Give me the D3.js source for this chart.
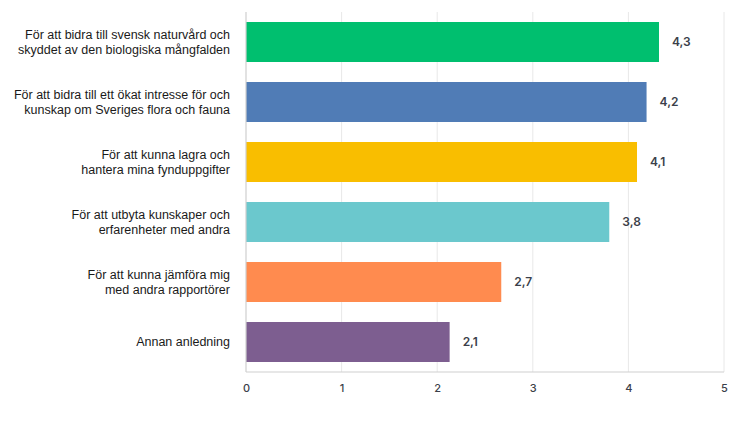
<!DOCTYPE html>
<html><head><meta charset="utf-8">
<script src="https://cdn.jsdelivr.net/npm/d3@7"></script>
<style>body{margin:0;background:#fff}svg{display:block}</style>
</head><body><svg id="c" width="750" height="425"></svg>
<script>
const categories = [
  ["För att bidra till svensk naturvård och", "skyddet av den biologiska mångfalden"],
  ["För att bidra till ett ökat intresse för och", "kunskap om Sveriges flora och fauna"],
  ["För att kunna lagra och", "hantera mina fynduppgifter"],
  ["För att utbyta kunskaper och", "erfarenheter med andra"],
  ["För att kunna jämföra mig", "med andra rapportörer"],
  ["Annan anledning"]
];
const values = [4.32, 4.19, 4.09, 3.80, 2.67, 2.13];
const colors = ["#00BF6F", "#507CB6", "#F9BE00", "#6BC8CD", "#FF8B4F", "#7D5E90"];
const xTicks = [0, 1, 2, 3, 4, 5];

(function () {
const svg = d3.select("#c");
const mL = 246, mR = 724, mT = 12, mB = 372;
const x = d3.scaleLinear().domain([0, 5]).range([mL, mR]);
const y = d3.scaleBand().domain(d3.range(categories.length)).range([mT, mB]).paddingInner(1/3).paddingOuter(1/6);

// grid
svg.append("g").selectAll("line").data(xTicks.slice(1)).join("line")
  .attr("x1", d => x(d)).attr("x2", d => x(d)).attr("y1", mT).attr("y2", mB)
  .attr("stroke", "#e8e8e8").attr("stroke-width", 1);

// bars
svg.append("g").selectAll("rect").data(values).join("rect")
  .attr("x", x(0)).attr("y", (d, i) => y(i))
  .attr("width", d => x(d) - x(0)).attr("height", y.bandwidth())
  .attr("fill", (d, i) => colors[i]);

// axis lines
svg.append("line").attr("x1", mL).attr("x2", mL).attr("y1", mT).attr("y2", mB)
  .attr("stroke", "#cfcfcf").attr("stroke-width", 1.2);
svg.append("line").attr("x1", mL).attr("x2", mR).attr("y1", mB).attr("y2", mB)
  .attr("stroke", "#cfcfcf").attr("stroke-width", 1.2);

// x axis tick labels
const xAxis = d3.axisBottom(x).tickValues(xTicks).tickSize(0).tickPadding(12).tickFormat(d3.format("d"));
const gx = svg.append("g").attr("transform", `translate(0,${mB})`).call(xAxis);
gx.select(".domain").remove();
gx.selectAll("text").attr("font-family", "Inter, Roboto, sans-serif").attr("font-size", 11)
  .attr("fill", "#3b3f4a").attr("font-weight", 500);

// value labels
const fmt = v => d3.format(".1f")(v).replace(".", ",");
svg.append("g").selectAll("text").data(values).join("text")
  .attr("x", d => x(d) + 13).attr("y", (d, i) => y(i) + y.bandwidth() / 2)
  .attr("dy", "0.35em").attr("font-family", "Inter, Roboto, sans-serif")
  .attr("font-size", 12).attr("font-weight", 600).attr("fill", "#3b3f4a")
  .text(fmt);

// category labels
const lh = 15.6;
const cg = svg.append("g");
categories.forEach((lines, i) => {
  const cy = y(i) + y.bandwidth() / 2;
  const t = cg.append("text").attr("text-anchor", "end")
    .attr("font-family", "'Liberation Sans', Arial, sans-serif").attr("font-size", 12.5)
    .attr("fill", "#1a1a1a");
  lines.forEach((ln, j) => {
    t.append("tspan").attr("x", 230)
      .attr("y", cy + (j - (lines.length - 1) / 2) * lh)
      .attr("dy", "0.35em").text(ln);
  });
});
})();
</script></body></html>
